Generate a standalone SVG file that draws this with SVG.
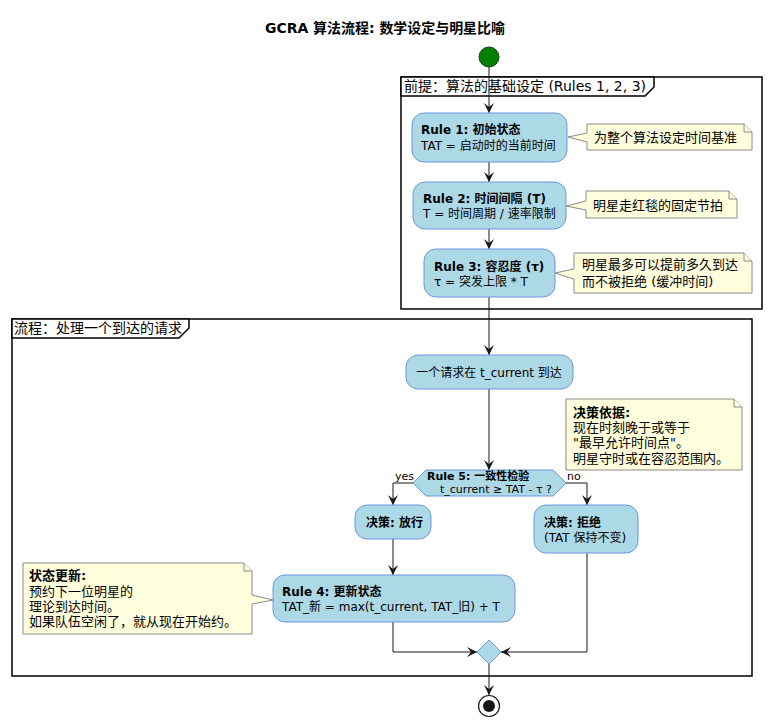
<svg xmlns="http://www.w3.org/2000/svg" width="771" height="728" viewBox="0 0 771 728">
<style>
text{font-family:"DejaVu Sans","Noto Sans CJK SC",sans-serif;fill:#000}
.t12{font-size:12px}
.t13{font-size:13px}
.t11{font-size:11px}
.t14{font-size:14px}
.b{font-weight:bold}
.act{fill:#ADD8E6;stroke:#6A98E0;stroke-width:1}
.note{fill:#FFFFDD;stroke:#8A8A8A;stroke-width:1}
.frame{fill:none;stroke:#000;stroke-width:1.5}
.tab{fill:#fff;stroke:#000;stroke-width:1.5}
.edge{fill:none;stroke:#181818;stroke-width:1}
</style>
<defs>
<marker id="arr" viewBox="0 0 10 10" refX="10" refY="5" markerWidth="10" markerHeight="10" markerUnits="userSpaceOnUse" orient="auto">
<path d="M0,0 L10,5 L0,10 L4,5 Z" fill="#181818"/>
</marker>
</defs>
<rect width="771" height="728" fill="#fff"/>
<text class="t14 b" x="385" y="33" text-anchor="middle" textLength="240" lengthAdjust="spacingAndGlyphs">GCRA 算法流程: 数学设定与明星比喻</text>

<g id="frame-premise">
<rect class="frame" x="401" y="77" width="361" height="232"/>
<path class="tab" d="M401,77 L654,77 L654,87 L645,96 L401,96 Z"/>
<text class="t14" x="404" y="91" textLength="242" lengthAdjust="spacingAndGlyphs">前提：算法的基础设定 (Rules 1, 2, 3)</text>
</g>
<g id="frame-flow">
<rect class="frame" x="12" y="319" width="740" height="357"/>
<path class="tab" d="M12,319 L189,319 L189,328 L179,338 L12,338 Z"/>
<text class="t14" x="14" y="333">流程：处理一个到达的请求</text>
</g>

<g id="connectors">
<path class="edge" d="M489,66 V113" marker-end="url(#arr)"/>
<path class="edge" d="M489,162 V182" marker-end="url(#arr)"/>
<path class="edge" d="M489,229 V249" marker-end="url(#arr)"/>
<path class="edge" d="M489,297 V355" marker-end="url(#arr)"/>
<path class="edge" d="M489,389 V470" marker-end="url(#arr)"/>
<path class="edge" d="M413,483 H393 V505" marker-end="url(#arr)"/>
<path class="edge" d="M566,483 H587 V505" marker-end="url(#arr)"/>
<path class="edge" d="M393,539 V575" marker-end="url(#arr)"/>
<path class="edge" d="M393,622 V652 H477" marker-end="url(#arr)"/>
<path class="edge" d="M587,553 V652 H501" marker-end="url(#arr)"/>
<path class="edge" d="M489,664 V695" marker-end="url(#arr)"/>
<text class="t11" x="395" y="480">yes</text>
<text class="t11" x="567" y="480">no</text>
</g>

<g id="start">
<circle cx="489" cy="57" r="10" fill="#008000" stroke="#1a3d1a" stroke-width="1"/>
</g>

<g id="rule1">
<rect class="act" x="412" y="113" width="155" height="49" rx="12"/>
<text class="t12 b" x="421" y="134">Rule 1: 初始状态</text>
<text class="t12" x="421" y="150">TAT = 启动时的当前时间</text>
</g>
<g id="note1">
<path class="note" d="M587,124 H744 L752,132 V150 H587 V142 L568,137 L587,133 Z"/>
<path class="note" d="M744,124 V132 H752"/>
<text class="t13" x="594" y="142">为整个算法设定时间基准</text>
</g>

<g id="rule2">
<rect class="act" x="413" y="182" width="153" height="47" rx="12"/>
<text class="t12 b" x="423" y="203">Rule 2: 时间间隔 (T)</text>
<text class="t12" x="423" y="218">T = 时间周期 / 速率限制</text>
</g>
<g id="note2">
<path class="note" d="M586,191 H729 L737,199 V218 H586 V210 L566,206 L586,201 Z"/>
<path class="note" d="M729,191 V199 H737"/>
<text class="t13" x="593" y="210">明星走红毯的固定节拍</text>
</g>

<g id="rule3">
<rect class="act" x="424" y="249" width="131" height="48" rx="12"/>
<text class="t12 b" x="434" y="271">Rule 3: 容忍度 (τ)</text>
<text class="t12" x="434" y="286">τ = 突发上限 * T</text>
</g>
<g id="note3">
<path class="note" d="M574,253 H744 L752,261 V293 H574 V279 L555,273 L574,269 Z"/>
<path class="note" d="M744,253 V261 H752"/>
<text class="t13" x="582" y="269">明星最多可以提前多久到达</text>
<text class="t13" x="582" y="286">而不被拒绝 (缓冲时间)</text>
</g>

<g id="request">
<rect class="act" x="406" y="355" width="167" height="34" rx="12"/>
<text class="t12" x="489" y="377" text-anchor="middle">一个请求在 t_current 到达</text>
</g>

<g id="decision-note">
<path class="note" d="M566,399 H734 L742,407 V470 H566 Z"/>
<path class="note" d="M734,399 V407 H742"/>
<text class="t13 b" x="573" y="417">决策依据:</text>
<text class="t13" x="573" y="432">现在时刻晚于或等于</text>
<text class="t13" x="573" y="447">"最早允许时间点"。</text>
<text class="t13" x="573" y="463">明星守时或在容忍范围内。</text>
</g>

<g id="rule5">
<path class="act" d="M413,483 L426,470 H553 L566,483 L553,496 H426 Z"/>
<text class="t11 b" x="427" y="480">Rule 5: 一致性检验</text>
<text class="t11" x="440" y="493">t_current ≥ TAT - τ ?</text>
</g>

<g id="allow">
<rect class="act" x="355" y="505" width="76" height="34" rx="12"/>
<text class="t12 b" x="366" y="527">决策: 放行</text>
</g>

<g id="reject">
<rect class="act" x="534" y="505" width="104" height="48" rx="12"/>
<text class="t12 b" x="544" y="527">决策: 拒绝</text>
<text class="t12" x="544" y="542">(TAT 保持不变)</text>
</g>

<g id="rule4">
<rect class="act" x="273" y="575" width="242" height="47" rx="12"/>
<text class="t12 b" x="282" y="596">Rule 4: 更新状态</text>
<text class="t12" x="282" y="611">TAT_新 = max(t_current, TAT_旧) + T</text>
</g>
<g id="note4">
<path class="note" d="M23,563 H244 L252,571 V595 L273,600 L252,604 V634 H23 Z"/>
<path class="note" d="M244,563 V571 H252"/>
<text class="t13 b" x="29" y="580">状态更新:</text>
<text class="t13" x="29" y="596">预约下一位明星的</text>
<text class="t13" x="29" y="611">理论到达时间。</text>
<text class="t13" x="29" y="626">如果队伍空闲了，就从现在开始约。</text>
</g>

<g id="merge">
<path class="act" d="M489,640 L501,652 L489,664 L477,652 Z"/>
</g>

<g id="end">
<circle cx="489" cy="706" r="10.5" fill="#fff" stroke="#181818" stroke-width="1.2"/>
<circle cx="489" cy="706" r="6" fill="#181818"/>
</g>
</svg>
